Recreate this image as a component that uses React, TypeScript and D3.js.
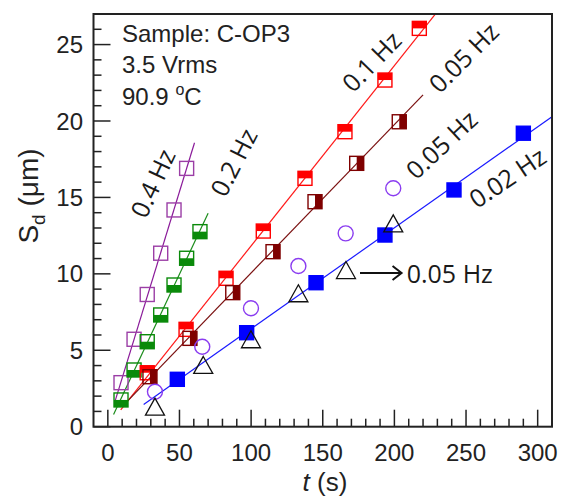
import React from 'react';
import * as d3 from 'd3';

const W = 565;
const H = 500;

// axis settings
const xDomain: [number, number] = [-10, 310];
const yDomain: [number, number] = [0, 27];
const xMajorTicks = [0, 50, 100, 150, 200, 250, 300];
const yMajorTicks = [0, 5, 10, 15, 20, 25];
const xMinorStep = 10;
const yMinorStep = 1;

// series data (t in s, Sd in µm)
const t04 = [9.2, 18.3, 27.5, 36.9, 46.2, 55.0];
const s04 = [2.88, 5.72, 8.65, 11.35, 14.18, 16.9];
const t02 = [9.2, 18.3, 27.5, 36.9, 46.2, 55.0, 64.3];
const s02 = [1.75, 3.71, 5.56, 7.31, 9.27, 11.02, 12.76];
const t01 = [27.5, 54.6, 82.5, 108.5, 137.6, 165.5, 193.4, 217.4];
const s01 = [3.53, 6.37, 9.71, 12.8, 16.25, 19.3, 22.68, 26.06];
const t005 = [29.4, 57.3, 87.2, 115.3, 144.6, 173.7, 203.4];
const s005 = [3.27, 5.78, 8.77, 11.45, 14.72, 17.23, 19.95];
const t002 = [48.5, 96.9, 145.3, 193.4, 241.6, 290.0];
const s002 = [3.1, 6.15, 9.42, 12.54, 15.49, 19.2];
const tCircle = [32.9, 65.9, 99.9, 133.0, 166.0, 199.2];
const sCircle = [2.29, 5.23, 7.75, 10.51, 12.65, 15.6];
const tTriangle = [32.9, 66.6, 99.9, 133.0, 166.2, 199.2];
const sTriangle = [1.31, 4.04, 5.72, 8.73, 10.25, 13.3];

// fit-line t ranges
const fit04Range = [5, 60.5];
const fit02Range = [4, 70];
const fit01Range = [9, 240];
const fit005Range = [10, 220];
const fit002Range = [25, 320];

const infoLines = ['Sample: C-OP3', '3.5 Vrms', '90.9 '];

type MarkerKind = 'open' | 'filled' | 'halfBottom' | 'halfTop' | 'halfRight' | 'circle' | 'triangle';

interface Series {
  t: number[];
  s: number[];
  color: string;
  lineColor?: string;
  kind: MarkerKind;
  fitRange?: number[];
}

const seriesList: Series[] = [
  { t: t04, s: s04, color: '#9b3ea6', lineColor: '#8a1a99', kind: 'open', fitRange: fit04Range },
  { t: t02, s: s02, color: '#0a8a0a', lineColor: '#1a8c1a', kind: 'halfBottom', fitRange: fit02Range },
  { t: t01, s: s01, color: '#ff0000', lineColor: '#ff1a1a', kind: 'halfTop', fitRange: fit01Range },
  { t: t005, s: s005, color: '#7f0000', lineColor: '#7a1010', kind: 'halfRight', fitRange: fit005Range },
  { t: t002, s: s002, color: '#0000ff', lineColor: '#1a1aff', kind: 'filled', fitRange: fit002Range },
  { t: tCircle, s: sCircle, color: '#8a3cf0', kind: 'circle' },
  { t: tTriangle, s: sTriangle, color: '#111111', kind: 'triangle' },
];

function linFit(ts: number[], ss: number[]) {
  const mx = d3.mean(ts) as number;
  const my = d3.mean(ss) as number;
  let num = 0;
  let den = 0;
  ts.forEach((t, i) => {
    num += (t - mx) * (ss[i] - my);
    den += (t - mx) * (t - mx);
  });
  const b = num / den;
  return { b, a: my - b * mx };
}

const Marker = ({ kind, cx, cy, color }: { kind: MarkerKind; cx: number; cy: number; color: string }) => {
  const h = 7;
  const sw = 1.4;
  if (kind === 'circle') {
    return <circle cx={cx} cy={cy} r={7.5} fill="none" stroke={color} strokeWidth={sw} />;
  }
  if (kind === 'triangle') {
    const w = 9.5;
    const hh = 8.5;
    return (
      <polygon
        points={`${cx},${cy - hh} ${cx + w},${cy + hh} ${cx - w},${cy + hh}`}
        fill="none"
        stroke={color}
        strokeWidth={1.3}
      />
    );
  }
  const outline = (
    <rect x={cx - h} y={cy - h} width={2 * h} height={2 * h} fill={kind === 'filled' ? color : 'none'} stroke={color} strokeWidth={sw} />
  );
  let half = null;
  if (kind === 'halfBottom') half = <rect x={cx - h} y={cy} width={2 * h} height={h} fill={color} />;
  if (kind === 'halfTop') half = <rect x={cx - h} y={cy - h} width={2 * h} height={h} fill={color} />;
  if (kind === 'halfRight') half = <rect x={cx} y={cy - h} width={h} height={2 * h} fill={color} />;
  return (
    <g>
      {outline}
      {half}
    </g>
  );
};

export default function App() {
  const left = 93.5;
  const right = 552;
  const top = 14;
  const bottom = 426.7;
  const x = d3.scaleLinear().domain(xDomain).range([left, right]);
  const y = d3.scaleLinear().domain(yDomain).range([bottom, top]);

  const xMinor = d3.range(0, xDomain[1], xMinorStep).filter((v) => !xMajorTicks.includes(v));
  const yMinor = d3.range(1, yDomain[1] + 0.001, yMinorStep).filter((v) => !yMajorTicks.includes(v));

  const line = d3
    .line<number[]>()
    .x((d) => x(d[0]))
    .y((d) => y(d[1]));

  const tickFont = "'Liberation Sans', Arial, sans-serif";
  const labelFont = "'Open Sans', 'DejaVu Sans', sans-serif";
  const axisColor = '#222';

  return (
    <svg width={W} height={H} style={{ position: 'absolute', left: 0, top: 0, background: '#fff' }}>
      <defs>
        <clipPath id="plotClip">
          <rect x={left} y={top} width={right - left} height={bottom - top} />
        </clipPath>
      </defs>
      <rect x={0} y={0} width={W} height={H} fill="#fff" />

      {/* fit lines */}
      <g clipPath="url(#plotClip)">
        {seriesList
          .filter((s) => s.fitRange)
          .map((s, i) => {
            const f = linFit(s.t, s.s);
            const r = s.fitRange as number[];
            const pts = r.map((t) => [t, f.a + f.b * t]);
            return <path key={i} d={line(pts) as string} fill="none" stroke={s.lineColor} strokeWidth={1.2} />;
          })}
      </g>

      {/* markers */}
      <g>
        {seriesList.map((s, i) =>
          s.t.map((t, j) => <Marker key={`${i}-${j}`} kind={s.kind} cx={x(t)} cy={y(s.s[j])} color={s.color} />)
        )}
      </g>

      {/* axes ticks (inward) */}
      <g stroke={axisColor} strokeWidth={1.5}>
        {xMajorTicks.map((v) => (
          <line key={`xM${v}`} x1={x(v)} x2={x(v)} y1={bottom} y2={bottom - 17} />
        ))}
        {xMinor.map((v) => (
          <line key={`xm${v}`} x1={x(v)} x2={x(v)} y1={bottom} y2={bottom - 8} />
        ))}
        {yMajorTicks.map((v) => (
          <line key={`yM${v}`} x1={left} x2={left + 17} y1={y(v)} y2={y(v)} />
        ))}
        {yMinor.map((v) => (
          <line key={`ym${v}`} x1={left} x2={left + 8} y1={y(v)} y2={y(v)} />
        ))}
      </g>
      <rect x={left} y={top} width={right - left} height={bottom - top} fill="none" stroke={axisColor} strokeWidth={2} />

      {/* tick labels */}
      <g fontFamily={tickFont} fontSize={24} fill="#222">
        {xMajorTicks.map((v) => (
          <text key={`xl${v}`} x={x(v)} y={461} textAnchor="middle">
            {v}
          </text>
        ))}
        {yMajorTicks.map((v) => (
          <text key={`yl${v}`} x={83} y={y(v)} dy="0.36em" textAnchor="end">
            {v}
          </text>
        ))}
      </g>

      {/* axis titles */}
      <text x={325} y={491} textAnchor="middle" fontFamily={tickFont} fontSize={26} fill="#222">
        <tspan fontStyle="italic">t</tspan> (s)
      </text>
      <text transform="translate(38,196) rotate(-90)" textAnchor="middle" fontFamily={tickFont} fontSize={28} fill="#222">
        S<tspan fontSize={19} dy={7}>d</tspan>
        <tspan dy={-7}> (μm)</tspan>
      </text>

      {/* info block */}
      <g fontFamily={tickFont} fontSize={24} fill="#222">
        <text x={122} y={42}>{infoLines[0]}</text>
        <text x={122} y={73}>{infoLines[1]}</text>
        <text x={122} y={105}>
          {infoLines[2]}
          <tspan fontSize={16} dy={-10}>o</tspan>
          <tspan dy={10}>C</tspan>
        </text>
      </g>

      {/* frequency labels */}
      <g fontFamily={labelFont} fontSize={25} fill="#1a1a1a" textAnchor="middle" dominantBaseline="central">
        <text transform="translate(152,183) rotate(-65)">0.4 Hz</text>
        <text transform="translate(233,162) rotate(-63)">0.2 Hz</text>
        <text transform="translate(371,61) rotate(-46)">0.1 Hz</text>
        <text transform="translate(463,57) rotate(-45)">0.05 Hz</text>
        <text transform="translate(441,144) rotate(-43)">0.05 Hz</text>
        <text transform="translate(507,177) rotate(-34)">0.02 Hz</text>
      </g>

      {/* arrow annotation */}
      <g stroke="#111" strokeWidth={2} fill="none">
        <line x1={x(176)} x2={x(205)} y1={y(10.06)} y2={y(10.06)} />
        <polyline points={`${x(205) - 9},${y(10.06) - 7} ${x(205)},${y(10.06)} ${x(205) - 9},${y(10.06) + 7}`} />
      </g>
      <text x={x(208.6)} y={y(9.4)} fontFamily={labelFont} fontSize={25} fill="#1a1a1a">
        0.05 Hz
      </text>
    </svg>
  );
}
